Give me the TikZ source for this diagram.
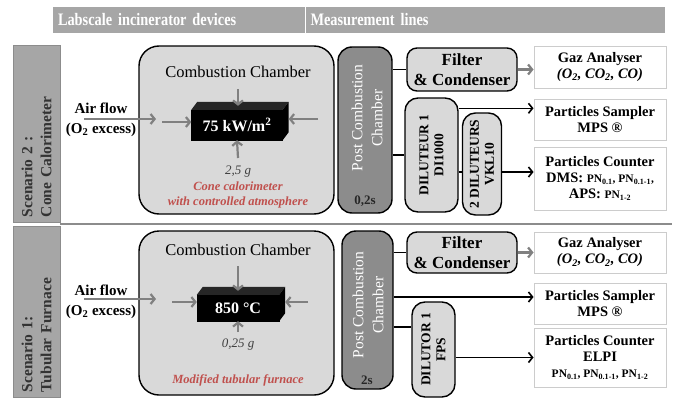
\documentclass[tikz,border=0pt]{standalone}
\usepackage{fontspec}
\setmainfont{Liberation Serif}
\newfontfamily\headfont[FakeStretch=0.82]{Liberation Serif}
\usetikzlibrary{arrows.meta, positioning}
\definecolor{notered}{HTML}{C0504D}
\tikzset{
  header/.style = {rectangle, fill=black!35, text=white, align=left, minimum height=26pt, inner xsep=5pt, font=\headfont\fontsize{17.5}{20}\selectfont\bfseries},
  scenbar/.style = {rectangle, rotate=90, fill=black!35, draw=black!45, line width=1pt, minimum height=47pt, inner xsep=5pt, align=left, text=black!80, font=\fontsize{15.5}{19}\selectfont\bfseries},
  chamber/.style = {rectangle, rounded corners=20pt, draw=black, line width=1.4pt, fill=black!15},
  postcc/.style = {rectangle, rounded corners=14pt, draw=black, line width=1.4pt, fill=black!45},
  filterbox/.style = {rectangle, rounded corners=10pt, draw=black, line width=1.4pt, fill=black!15, align=center, font=\fontsize{17}{20}\selectfont\bfseries},
  dilbox/.style = {rectangle, rounded corners=13pt, draw=black, line width=1.4pt, fill=black!15, rotate=90, align=center, inner sep=1pt, font=\fontsize{13.5}{15}\selectfont\bfseries},
  instr/.style = {rectangle, draw=black!20, line width=1pt, fill=white, align=center, minimum width=132pt, font=\fontsize{14.5}{16}\selectfont\bfseries},
  cube/.style = {rectangle, fill=black, draw=black, text=white, inner sep=0pt, font=\fontsize{16}{18}\selectfont\bfseries},
  title/.style = {font=\fontsize{16.5}{18}\selectfont},
  vertlabel/.style = {rotate=90, align=center, text=white, font=\fontsize{15.5}{20}\selectfont},
  airlabel/.style = {align=center, font=\fontsize{15}{19.5}\selectfont\bfseries},
  mass/.style = {text=black!75, font=\fontsize{13}{15}\selectfont\itshape},
  note/.style = {text=notered, align=center, font=\fontsize{12.5}{15}\selectfont\bfseries\itshape},
  heat/.style = {draw=black!50, line width=2.2pt, -{Straight Barb[length=4pt,width=10pt]}},
  link/.style = {draw=black, line width=1.6pt},
  flow/.style = {link, -{Straight Barb[length=4pt,width=10pt]}}
}

\begin{document}
\begin{tikzpicture}[x=1pt, y=-1pt]
\useasboundingbox (0,0) rectangle (675,399);

% Header
\node[header, text width=241.5pt] (hdev) at (178.75,20) {Labscale incinerator devices};
\node[header, text width=349.5pt] (hmes) at (485.25,20) {Measurement lines};

% Scenario bars
\node[scenbar, minimum width=177pt, text width=167pt] (sc2) at (36.5,133.5) {Scenario 2 :\\Cone Calorimeter};
\node[scenbar, minimum width=171pt, text width=161pt] (sc1) at (36.5,311.5) {Scenario 1:\\Tubular Furnace};
\coordinate (sepL) at (60,224);
\coordinate (sepR) at (672,224);
\draw[black!45, line width=2pt] (sepL) -- (sepR);

% Scenario 2: cone calorimeter
\node[chamber, minimum width=195pt, minimum height=168pt] (cc1) at (236.5,130) {};
\node[title] (cc1t) at (238,72) {Combustion Chamber};
\node[cube, minimum width=91pt, minimum height=30pt] (blk1) at (237,125) {75 kW/m\textsuperscript{2}};
\fill[black!85] (blk1.north west) -- ([shift={(6pt,8pt)}]blk1.north west) -- ([shift={(6pt,8pt)}]blk1.north east) -- (blk1.north east) -- cycle;
\fill[black] (blk1.north east) -- ([shift={(6pt,8pt)}]blk1.north east) -- ([shift={(6pt,8pt)}]blk1.south east) -- (blk1.south east) -- cycle;
\node[mass] (m1) at (238,172) {2,5 g};
\node[note] (n1) at (238,195) {Cone calorimeter\\with controlled atmosphere};
\node[airlabel] (air1) at (101,120) {Air flow\\(O\textsubscript{2} excess)};

\node[postcc, minimum width=54pt, minimum height=166pt] (pcc1) at (365,130) {};
\node[vertlabel] (pcc1t) at (367,118) {Post Combustion\\Chamber};
\node[font=\fontsize{13}{15}\selectfont\bfseries, text=black!85] (pcc1s) at (365,201) {0,2s};

\node[filterbox, minimum width=110pt, minimum height=43pt] (filt1) at (462,69.5) {Filter\\\& Condenser};
\node[dilbox, minimum width=114pt, minimum height=53pt] (dil1) at (431.5,155) {DILUTEUR 1\\DI1000};
\node[dilbox, minimum width=102pt, minimum height=39pt] (dil2) at (482,164) {2 DILUTEURS\\VKL10};

\node[instr, minimum height=42pt] (gaz1) at (600,67) {Gaz Analyser\\\textit{(O\textsubscript{2}, CO\textsubscript{2}, CO)}};
\node[instr, minimum height=41pt] (smp1) at (600,119.5) {Particles Sampler\\MPS \textregistered};
\node[instr, minimum height=63pt] (cnt1) at (600,178.5) {Particles Counter\\DMS: {\fontsize{11.5}{14}\selectfont PN\textsubscript{0.1}, PN\textsubscript{0.1-1},}\\APS: {\fontsize{11.5}{14}\selectfont PN\textsubscript{1-2}}};

% Scenario 1: tubular furnace
\node[chamber, minimum width=195pt, minimum height=164pt] (cc2) at (236.5,313) {};
\node[title] (cc2t) at (238,250) {Combustion Chamber};
\node[cube, minimum width=82pt, minimum height=26pt] (blk2) at (238,308) {850 °C};
\fill[black!85] (blk2.north west) -- ([shift={(6pt,8pt)}]blk2.north west) -- ([shift={(6pt,8pt)}]blk2.north east) -- (blk2.north east) -- cycle;
\fill[black] (blk2.north east) -- ([shift={(6pt,8pt)}]blk2.north east) -- ([shift={(6pt,8pt)}]blk2.south east) -- (blk2.south east) -- cycle;
\node[mass] (m2) at (238,345) {0,25 g};
\node[note] (n2) at (238,380) {Modified tubular furnace};
\node[airlabel] (air2) at (101,302) {Air flow\\(O\textsubscript{2} excess)};

\node[postcc, minimum width=51pt, minimum height=158pt] (pcc2) at (367.5,310) {};
\node[vertlabel] (pcc2t) at (368,305) {Post Combustion\\Chamber};
\node[font=\fontsize{13}{15}\selectfont\bfseries, text=black!85] (pcc2s) at (367,380) {2s};

\node[filterbox, minimum width=110pt, minimum height=41pt] (filt2) at (462,252.5) {Filter\\\& Condenser};
\node[dilbox, minimum width=95pt, minimum height=43pt] (dil3) at (433.5,349.5) {DILUTOR 1\\FPS};

\node[instr, minimum height=41pt] (gaz2) at (600,252.5) {Gaz Analyser\\\textit{(O\textsubscript{2}, CO\textsubscript{2}, CO)}};
\node[instr, minimum height=41pt] (smp2) at (600,303.5) {Particles Sampler\\MPS \textregistered};
\node[instr, minimum height=59pt] (cnt2) at (600,357.5) {Particles Counter\\ELPI\\{\fontsize{11.5}{14}\selectfont PN\textsubscript{0.1}, PN\textsubscript{0.1-1}, PN\textsubscript{1-2}}};

% Heat and air arrows
\coordinate (a1s) at (84,119);
\coordinate (a1e) at (156,119);
\coordinate (h1n) at (238,89);
\coordinate (h1s) at (238,158);
\coordinate (h1w) at (162,122);
\coordinate (h1e) at (318,119);
\draw[heat] (a1s) -- (a1e);
\draw[heat] (h1n) -- ([shift={(1pt,4pt)}]blk1.north);
\draw[heat] (h1s) -- (blk1.south);
\draw[heat] (h1w) -- (blk1.west |- h1w);
\draw[heat] (h1e) -- ([xshift=6pt]blk1.east |- h1e);

\coordinate (a2s) at (84,299);
\coordinate (a2e) at (156,299);
\coordinate (h2n) at (238,266);
\coordinate (h2s) at (238,332);
\coordinate (h2w) at (172,302);
\coordinate (h2e) at (308,302);
\draw[heat] (a2s) -- (a2e);
\draw[heat] (h2n) -- ([yshift=4pt]blk2.north);
\draw[heat] (h2s) -- (blk2.south);
\draw[heat] (h2w) -- (blk2.west |- h2w);
\draw[heat] (h2e) -- ([xshift=6pt]blk2.east |- h2e);

% Measurement lines, scenario 2
\coordinate (j1) at (460,172);
\draw[link] (pcc1.east |- filt1.west) -- (filt1.west);
\draw[heat] (filt1.east) -- (filt1.east -| gaz1.west);
\draw[flow] ([yshift=-11pt]dil1.south east) -- ([yshift=-11pt]dil1.south east -| smp1.west);
\draw[link] (pcc1.east |- dil1.center) -- (dil1.north);
\draw[link] (dil1.south |- j1) -- (dil2.north |- j1);
\draw[flow] (dil2.south |- j1) -- (cnt1.west |- j1);

% Measurement lines, scenario 1
\coordinate (j2) at (393,297);
\coordinate (j3) at (393,327);
\draw[link] (pcc2.east |- filt2.west) -- (filt2.west);
\draw[heat] (filt2.east) -- (filt2.east -| gaz2.west);
\draw[flow] (pcc2.east |- j2) -- (smp2.west |- j2);
\draw[link] (pcc2.east |- j3) -- (dil3.north |- j3);
\draw[flow] (dil3.south |- cnt2.west) -- (cnt2.west);

\end{tikzpicture}
\end{document}
